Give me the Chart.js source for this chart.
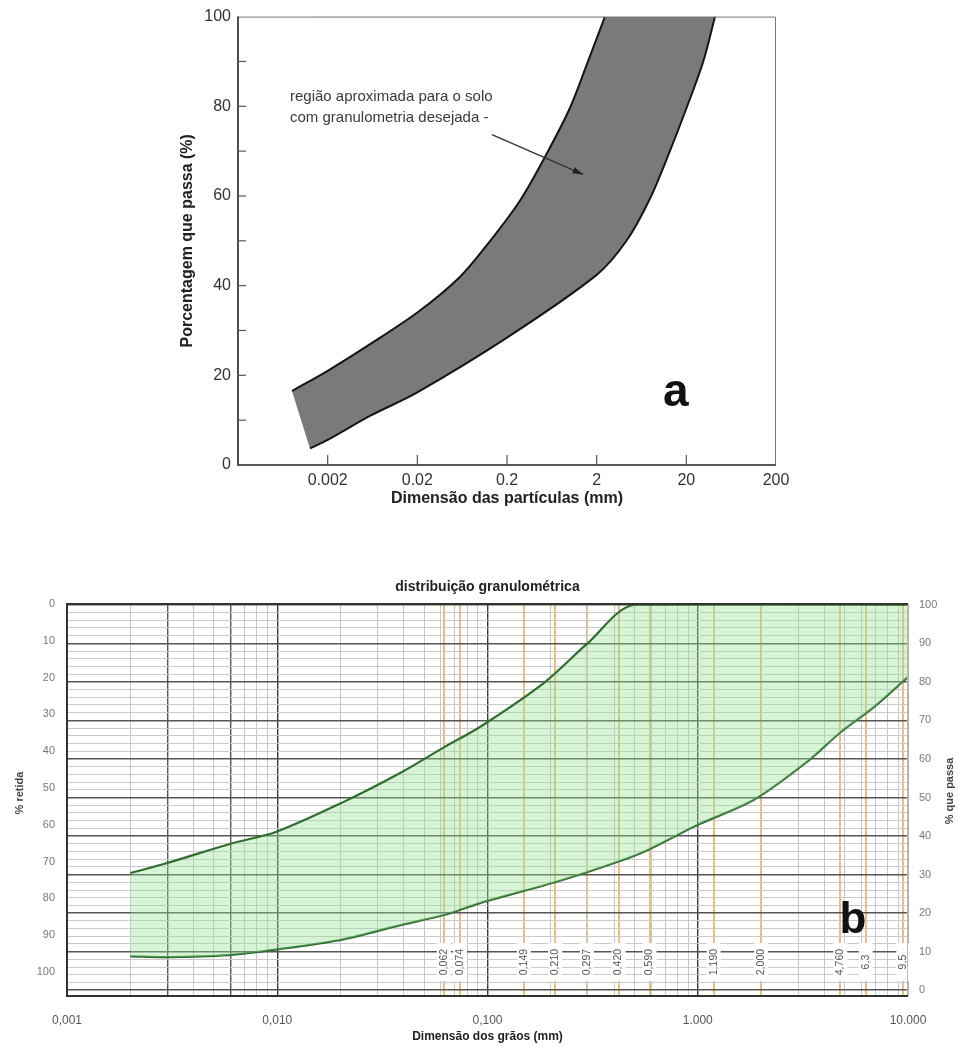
<!DOCTYPE html>
<html><head><meta charset="utf-8">
<script src="https://cdn.jsdelivr.net/npm/chart.js@4.4.1/dist/chart.umd.min.js"></script>
<style>
html,body{margin:0;padding:0;background:#fff;width:958px;height:1048px;overflow:hidden}
#wa{position:absolute;left:0;top:0;width:958px;height:530px}
#wb{position:absolute;left:0;top:560px;width:958px;height:488px}
canvas{display:block}
</style></head><body>
<div id="wa"><canvas id="ca" width="958" height="530"></canvas></div>
<div id="wb"><canvas id="cb" width="958" height="488"></canvas></div>
<script>
const FONT = "'Liberation Sans', Arial, Helvetica, sans-serif";

// ---------- chart a data ----------
const aXTicks = [0.002, 0.02, 0.2, 2, 20, 200];
const aXLabels = ['0.002', '0.02', '0.2', '2', '20', '200'];
const aYTicks = [0, 20, 40, 60, 80, 100];
const aYMinor = [10, 20, 30, 40, 50, 60, 70, 80, 90];
const aUpperX = [0.0008, 0.002, 0.006, 0.02, 0.06, 0.13, 0.28, 0.54, 1.0, 1.6, 2.47];
const aUpperY = [16.5, 21, 27, 34, 42, 50, 59, 69, 79.5, 90, 100];
const aLowerX = [0.00127, 0.002, 0.006, 0.02, 0.2, 2, 4.3, 7.9, 13.1, 20, 30.9, 41.8];
const aLowerY = [3.7, 5.6, 11, 16.2, 28.4, 42.4, 50, 59.5, 70, 79.5, 90, 100];
const aNoteLines = ['região aproximada para o solo', 'com granulometria desejada -'];

// ---------- chart b data ----------
const bXMajor = [0.001, 0.01, 0.1, 1, 10];
const bXLabels = ['0,001', '0,010', '0,100', '1.000', '10.000'];
const bSieves = [0.062, 0.074, 0.149, 0.210, 0.297, 0.420, 0.590, 1.190, 2.000, 4.760, 6.3, 9.5];
const bSieveLabels = ['0,062', '0,074', '0,149', '0,210', '0,297', '0,420', '0,590', '1,190', '2,000', '4,760', '6,3', '9,5'];
const bDarkV = [0.003, 0.006];
const bRetidaTicks = [0, 10, 20, 30, 40, 50, 60, 70, 80, 90, 100];
const bPassaTicks = [0, 10, 20, 30, 40, 50, 60, 70, 80, 90, 100];
const bUpperX = [0.002, 0.003, 0.006, 0.01, 0.0206, 0.0386, 0.062, 0.092, 0.185, 0.298, 0.50, 10];
const bUpperY = [30.4, 33, 38, 41.2, 48.8, 56.4, 63, 68.3, 79.7, 89.9, 100, 100];
const bLowerX = [0.002, 0.003, 0.0058, 0.01, 0.0206, 0.0386, 0.062, 0.092, 0.215, 0.43, 0.59, 1.0, 1.85, 3.3, 4.75, 6.9, 10];
const bLowerY = [8.8, 8.6, 9.1, 10.6, 13.2, 16.9, 19.5, 22.6, 28.2, 33.6, 36.6, 42.9, 49.4, 59.2, 66.8, 73.5, 81.3];

const pts = (xs, ys) => xs.map((x, i) => ({x: x, y: ys[i]}));
const near = (a, b) => Math.abs(a - b) / b < 1e-6;

// ================= chart a =================
const aWedge = [
  {x: aUpperX[0], y: aUpperY[0]}, {x: aUpperX[1], y: aUpperY[1]},
  {x: aLowerX[1], y: aLowerY[1]}, {x: aLowerX[0], y: aLowerY[0]}
];
const GRAY = '#7b7979';

const aDecor = {
  id: 'aDecor',
  afterDatasetsDraw(chart) {
    const {ctx, chartArea: c, scales: {x, y}} = chart;
    ctx.save();
    ctx.strokeStyle = '#777'; ctx.lineWidth = 1;
    ctx.beginPath(); ctx.moveTo(c.left, c.top + 0.5); ctx.lineTo(c.right - 0.5, c.top + 0.5); ctx.lineTo(c.right - 0.5, c.bottom); ctx.stroke();
    ctx.strokeStyle = '#222'; ctx.lineWidth = 1.6;
    ctx.beginPath(); ctx.moveTo(c.left, c.top); ctx.lineTo(c.left, c.bottom); ctx.lineTo(c.right, c.bottom); ctx.stroke();
    ctx.strokeStyle = '#555'; ctx.lineWidth = 1.2;
    aYMinor.forEach(v => { const py = y.getPixelForValue(v); ctx.beginPath(); ctx.moveTo(c.left, py); ctx.lineTo(c.left + 8, py); ctx.stroke(); });
    aXTicks.slice(0, -1).forEach(v => { const px = x.getPixelForValue(v); ctx.beginPath(); ctx.moveTo(px, c.bottom); ctx.lineTo(px, c.bottom - 10); ctx.stroke(); });
    ctx.fillStyle = '#222';
    ctx.font = 'bold 16px ' + FONT; ctx.textAlign = 'center'; ctx.textBaseline = 'middle';
    ctx.fillText('Dimensão das partículas (mm)', (c.left + c.right) / 2, 499);
    ctx.save(); ctx.translate(188, (c.top + c.bottom) / 2); ctx.rotate(-Math.PI / 2);
    ctx.fillText('Porcentagem que passa (%)', 0, 0); ctx.restore();
    ctx.fillStyle = '#3a3a3a'; ctx.font = '15px ' + FONT; ctx.textAlign = 'left';
    ctx.fillText(aNoteLines[0], x.getPixelForValue(0.00076), y.getPixelForValue(82));
    ctx.fillText(aNoteLines[1], x.getPixelForValue(0.00076), y.getPixelForValue(77.4));
    const x0 = x.getPixelForValue(0.136), y0 = y.getPixelForValue(73.7);
    const x1 = x.getPixelForValue(1.41), y1 = y.getPixelForValue(64.8);
    ctx.strokeStyle = '#333'; ctx.lineWidth = 1.4;
    ctx.beginPath(); ctx.moveTo(x0, y0); ctx.lineTo(x1, y1); ctx.stroke();
    const ang = Math.atan2(y1 - y0, x1 - x0);
    ctx.fillStyle = '#222'; ctx.beginPath(); ctx.moveTo(x1, y1);
    ctx.lineTo(x1 - 11 * Math.cos(ang - 0.3), y1 - 11 * Math.sin(ang - 0.3));
    ctx.lineTo(x1 - 11 * Math.cos(ang + 0.3), y1 - 11 * Math.sin(ang + 0.3)); ctx.closePath(); ctx.fill();
    ctx.fillStyle = '#111'; ctx.font = 'bold 46px ' + FONT; ctx.textAlign = 'center'; ctx.textBaseline = 'alphabetic';
    ctx.fillText('a', x.getPixelForValue(15.3), y.getPixelForValue(13.2));
    ctx.restore();
  }
};

new Chart(document.getElementById('ca'), {
  type: 'line',
  data: {datasets: [
    {data: pts(aUpperX, aUpperY), fill: false, borderColor: '#151515', borderWidth: 2, pointRadius: 0, tension: 0.3},
    {data: pts(aLowerX, aLowerY), fill: false, borderColor: '#151515', borderWidth: 2, pointRadius: 0, tension: 0.3},
    {data: pts(aUpperX, aUpperY), fill: 'end', backgroundColor: '#ffffff', borderWidth: 0, pointRadius: 0, tension: 0.3},
    {data: aWedge, fill: 'shape', backgroundColor: GRAY, borderWidth: 0, pointRadius: 0, tension: 0},
    {data: pts(aLowerX, aLowerY), fill: 'end', backgroundColor: GRAY, borderWidth: 0, pointRadius: 0, tension: 0.3}
  ]},
  options: {
    responsive: false, animation: false, events: [],
    layout: {padding: {left: 0, top: 16, right: 182, bottom: 15}},
    plugins: {legend: {display: false}, tooltip: {enabled: false}, title: {display: false}},
    scales: {
      x: {type: 'logarithmic', min: 0.0002, max: 200,
        afterFit(s) { s.height = 50; },
        afterBuildTicks(s) { s.ticks = aXTicks.map(v => ({value: v})); },
        grid: {display: false, drawTicks: false}, border: {display: false},
        ticks: {autoSkip: false, maxRotation: 0, padding: 6, color: '#333', font: {family: FONT, size: 16},
          callback: (v, i) => aXLabels[i]}},
      y: {type: 'linear', min: 0, max: 100,
        afterFit(s) { s.width = 238; },
        afterBuildTicks(s) { s.ticks = aYTicks.map(v => ({value: v})); },
        grid: {display: false, drawTicks: false}, border: {display: false},
        ticks: {autoSkip: false, padding: 7, color: '#333', font: {family: FONT, size: 16},
          callback: (v, i) => String(aYTicks[i])}}
    }
  },
  plugins: [aDecor]
});

// ================= chart b =================
const bGridX = [];
[0.001, 0.01, 0.1, 1].forEach(d => { for (let m = 1; m < 10; m++) bGridX.push(+(d * m).toPrecision(3)); });
bGridX.push(10);
const bXTickVals = bGridX.concat(bSieves.filter(s => !bGridX.some(g => near(g, s)))).sort((a, b) => a - b);
const bPassaGrid = [];
for (let v = 0; v <= 100; v += 2) bPassaGrid.push(v);

const isSieve = v => bSieves.some(s => near(v, s));
const isMajor = v => bXMajor.some(s => near(v, s));
const isDarkV = v => bDarkV.some(s => near(v, s));

const bDecor = {
  id: 'bDecor',
  afterDatasetsDraw(chart) {
    const {ctx, chartArea: c, scales: {x, yR}} = chart;
    ctx.save();
    ctx.font = '10.5px ' + FONT; ctx.textAlign = 'center'; ctx.textBaseline = 'middle';
    const ly = yR.getPixelForValue(7.3);
    bSieves.forEach((s, i) => {
      const px = x.getPixelForValue(s);
      ctx.fillStyle = '#ffffff'; ctx.fillRect(px - 7, ly - 19, 14, 38);
      ctx.save(); ctx.translate(px, ly); ctx.rotate(-Math.PI / 2);
      ctx.fillStyle = '#555'; ctx.fillText(bSieveLabels[i], 0, 0); ctx.restore();
    });
    ctx.strokeStyle = '#bbb'; ctx.lineWidth = 1;
    ctx.beginPath(); ctx.moveTo(c.right - 0.5, c.top); ctx.lineTo(c.right - 0.5, c.bottom); ctx.stroke();
    ctx.strokeStyle = '#333'; ctx.lineWidth = 2;
    ctx.beginPath(); ctx.moveTo(c.right, c.top); ctx.lineTo(c.left, c.top); ctx.lineTo(c.left, c.bottom); ctx.lineTo(c.right, c.bottom); ctx.stroke();
    ctx.fillStyle = '#222'; ctx.font = 'bold 14px ' + FONT;
    ctx.fillText('distribuição granulométrica', (c.left + c.right) / 2, 27);
    ctx.font = 'bold 12px ' + FONT;
    ctx.fillText('Dimensão dos grãos (mm)', (c.left + c.right) / 2, 477);
    ctx.font = 'bold 11px ' + FONT; ctx.fillStyle = '#444';
    ctx.save(); ctx.translate(20, 233); ctx.rotate(-Math.PI / 2); ctx.fillText('% retida', 0, 0); ctx.restore();
    ctx.save(); ctx.translate(950, 231); ctx.rotate(-Math.PI / 2); ctx.fillText('% que passa', 0, 0); ctx.restore();
    ctx.fillStyle = '#111'; ctx.font = 'bold 44px ' + FONT; ctx.textBaseline = 'alphabetic';
    ctx.fillText('b', x.getPixelForValue(5.47), yR.getPixelForValue(14.8));
    ctx.restore();
  }
};

new Chart(document.getElementById('cb'), {
  type: 'line',
  data: {datasets: [
    {data: pts(bUpperX, bUpperY), yAxisID: 'yR', fill: '+1', backgroundColor: 'rgba(150,225,150,0.38)',
      borderColor: '#2f6e2f', borderWidth: 2.2, pointRadius: 0, tension: 0.3},
    {data: pts(bLowerX, bLowerY), yAxisID: 'yR', fill: false,
      borderColor: '#2f6e2f', borderWidth: 2.2, pointRadius: 0, tension: 0.3}
  ]},
  options: {
    responsive: false, animation: false, events: [],
    layout: {padding: {left: 0, top: 44, right: 0, bottom: 0}},
    plugins: {legend: {display: false}, tooltip: {enabled: false}, title: {display: false}},
    scales: {
      x: {type: 'logarithmic', min: 0.001, max: 10,
        afterFit(s) { s.height = 52; },
        afterBuildTicks(s) { s.ticks = bXTickVals.map(v => ({value: v})); },
        grid: {drawTicks: false,
          color: ctx => { const v = ctx.tick ? ctx.tick.value : 0; if (isSieve(v)) return 'rgba(228,168,80,0.75)'; if (isMajor(v)) return '#3a3a3a'; if (isDarkV(v)) return '#555'; return '#c9c9c9'; },
          lineWidth: ctx => { const v = ctx.tick ? ctx.tick.value : 0; if (isSieve(v)) return 2; if (isMajor(v) || isDarkV(v)) return 1.4; return 1; }},
        border: {display: false},
        ticks: {autoSkip: false, maxRotation: 0, padding: 17, color: '#555', font: {family: FONT, size: 12},
          callback: (v) => { const i = bXMajor.findIndex(m => near(v, m)); return i >= 0 ? bXLabels[i] : ''; }}},
      yL: {type: 'linear', position: 'left', reverse: true, min: 0, max: 106.5,
        afterFit(s) { s.width = 67; },
        afterBuildTicks(s) { s.ticks = bRetidaTicks.map(v => ({value: v})); },
        grid: {display: false, drawTicks: false}, border: {display: false},
        ticks: {autoSkip: false, padding: 12, color: '#777', font: {family: FONT, size: 11},
          callback: (v, i) => String(bRetidaTicks[i])}},
      yR: {type: 'linear', position: 'right', min: -1.5, max: 100.2,
        afterFit(s) { s.width = 50; },
        afterBuildTicks(s) { s.ticks = bPassaGrid.map(v => ({value: v})); },
        grid: {drawTicks: false,
          color: ctx => { const v = ctx.tick ? ctx.tick.value : 1; return v % 10 === 0 ? '#555' : '#cacaca'; },
          lineWidth: ctx => { const v = ctx.tick ? ctx.tick.value : 1; return v % 10 === 0 ? 1.5 : 1; }},
        border: {display: false},
        ticks: {autoSkip: false, padding: 11, color: '#777', font: {family: FONT, size: 11},
          callback: (v) => bPassaTicks.includes(v) ? String(v) : ''}}
    }
  },
  plugins: [bDecor]
});
</script>
</body></html>
